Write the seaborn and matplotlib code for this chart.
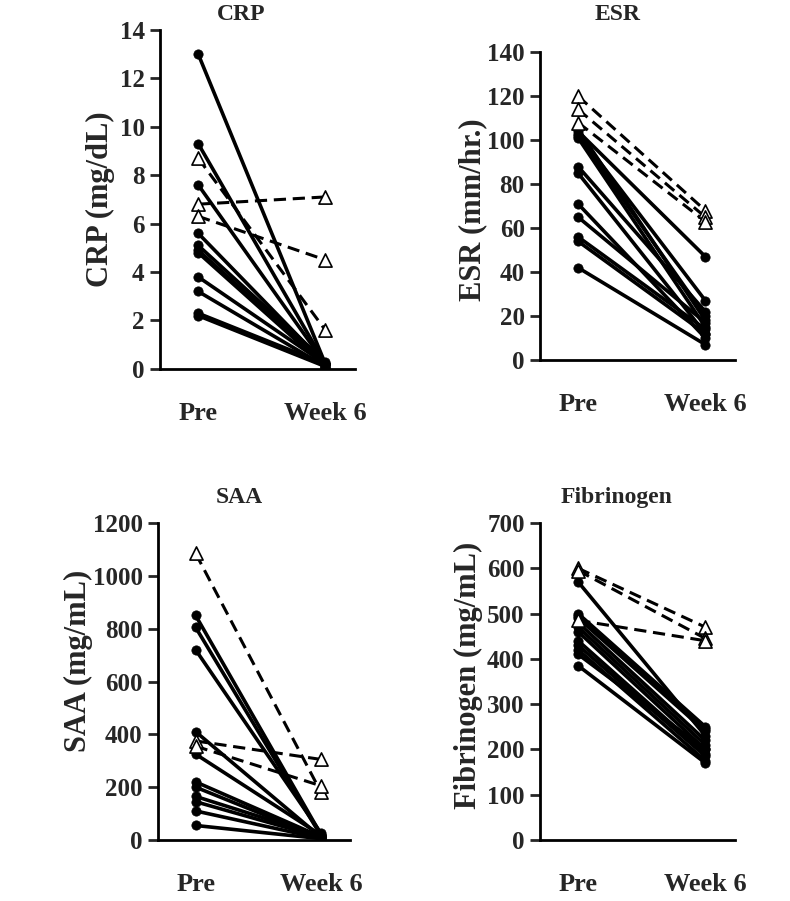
import matplotlib
matplotlib.use("Agg")
import matplotlib.pyplot as plt
import seaborn as sns
import pandas as pd
import numpy as np

sns.set_theme(style="ticks")
plt.rcParams['font.family'] = ['Liberation Serif', 'DejaVu Serif']
plt.rcParams['font.weight'] = 'bold'

time_labels = ["Pre", "Week 6"]

# CRP (mg/dL)
crp_resp_pre = [13.0, 9.3, 7.6, 5.6, 5.1, 4.9, 4.8, 3.8, 3.2, 2.3, 2.2]
crp_resp_wk6 = [0.2, 0.2, 0.2, 0.2, 0.3, 0.2, 0.1, 0.2, 0.1, 0.2, 0.1]
crp_non_pre = [8.7, 6.8, 6.3]
crp_non_wk6 = [1.6, 7.1, 4.5]

# ESR (mm/hr.)
esr_resp_pre = [105, 104, 103, 102, 101, 88, 85, 71, 65, 56, 54, 42]
esr_resp_wk6 = [18, 47, 27, 20, 15, 22, 12, 10, 17, 14, 12, 7]
esr_non_pre = [120, 114, 108]
esr_non_wk6 = [68, 65, 63]

# SAA (mg/mL)
saa_resp_pre = [850, 805, 720, 410, 325, 220, 200, 165, 145, 110, 55]
saa_resp_wk6 = [20, 15, 25, 10, 18, 12, 8, 15, 10, 6, 5]
saa_non_pre = [1085, 375, 355]
saa_non_wk6 = [180, 305, 205]

# Fibrinogen (mg/mL)
fib_resp_pre = [570, 500, 495, 490, 480, 470, 460, 440, 430, 420, 410, 385]
fib_resp_wk6 = [230, 250, 245, 240, 220, 210, 200, 190, 185, 175, 200, 170]
fib_non_pre = [600, 595, 485]
fib_non_wk6 = [470, 445, 440]

panels = [
    ("CRP", "CRP (mg/dL)", crp_resp_pre, crp_resp_wk6, crp_non_pre, crp_non_wk6,
     np.arange(0, 15, 2), (0, 14)),
    ("ESR", "ESR (mm/hr.)", esr_resp_pre, esr_resp_wk6, esr_non_pre, esr_non_wk6,
     np.arange(0, 141, 20), (0, 140)),
    ("SAA", "SAA (mg/mL)", saa_resp_pre, saa_resp_wk6, saa_non_pre, saa_non_wk6,
     np.arange(0, 1201, 200), (0, 1200)),
    ("Fibrinogen", "Fibrinogen (mg/mL)", fib_resp_pre, fib_resp_wk6, fib_non_pre, fib_non_wk6,
     np.arange(0, 701, 100), (0, 700)),
]

W, H = 790, 901
positions = [
    [0.2025, 0.5905, 0.2465, 0.3765],
    [0.6835, 0.6004, 0.2465, 0.3416],
    [0.2000, 0.0677, 0.2430, 0.3518],
    [0.6835, 0.0677, 0.2465, 0.3518],
]
title_px = [(241, 14), (618, 14), (239, 497), (617, 497)]
ylabel_coords = [(-0.23, 0.50), (-0.27, 0.49), (-0.34, 0.565), (-0.293, 0.52)]

fig = plt.figure(figsize=(7.9, 9.01), dpi=100)

def long_df(pre, wk6, group):
    rows = []
    for i, (a, b) in enumerate(zip(pre, wk6)):
        rows.append(dict(id=f"{group}{i}", t=0, v=a, g=group))
        rows.append(dict(id=f"{group}{i}", t=1, v=b, g=group))
    return pd.DataFrame(rows)

for (title, ylabel, rp, rw, npre, nw, yt, ylim), pos, tp, yc in zip(
        panels, positions, title_px, ylabel_coords):
    ax = fig.add_axes(pos)
    dr = long_df(rp, rw, "r")
    dn = long_df(npre, nw, "n")
    sns.lineplot(data=dr, x="t", y="v", units="id", estimator=None, ax=ax,
                 color="black", lw=2.6, legend=False, zorder=2)
    sns.lineplot(data=dn, x="t", y="v", units="id", estimator=None, ax=ax,
                 color="black", lw=2.2, legend=False, zorder=2, dashes=False)
    for l in ax.lines[len(rp):]:
        l.set_linestyle((0, (4, 2.2)))
    sns.scatterplot(data=dr, x="t", y="v", ax=ax, marker="o", s=45,
                    color="black", edgecolor="black", linewidth=0.5, zorder=3, legend=False)
    sns.scatterplot(data=dn, x="t", y="v", ax=ax, marker="^", s=90,
                    facecolor="white", edgecolor="black", linewidth=1.2, zorder=4, legend=False)
    ax.set_xlim(-0.30, 1.23)
    ax.set_ylim(*ylim)
    ax.set_yticks(yt)
    ax.set_yticklabels([str(v) for v in yt], fontsize=18, fontweight="bold")
    ax.set_xticks([0, 1])
    ax.set_xticklabels(time_labels, fontsize=19, fontweight="bold")
    ax.tick_params(axis="x", length=0, pad=24)
    ax.tick_params(axis="y", length=7, width=2, direction="out", pad=4)
    ax.set_xlabel("")
    ax.set_ylabel(ylabel, fontsize=22, fontweight="bold")
    ax.yaxis.set_label_coords(*yc)
    fig.text(tp[0] / W, 1 - tp[1] / H, title, fontsize=17, fontweight="bold",
             ha="center", va="center")
    for s in ["top", "right"]:
        ax.spines[s].set_visible(False)
    for s in ["left", "bottom"]:
        ax.spines[s].set_linewidth(2)
        ax.spines[s].set_color("black")
    ax.set_facecolor("white")

fig.savefig("out.png", dpi=100, facecolor="white")
